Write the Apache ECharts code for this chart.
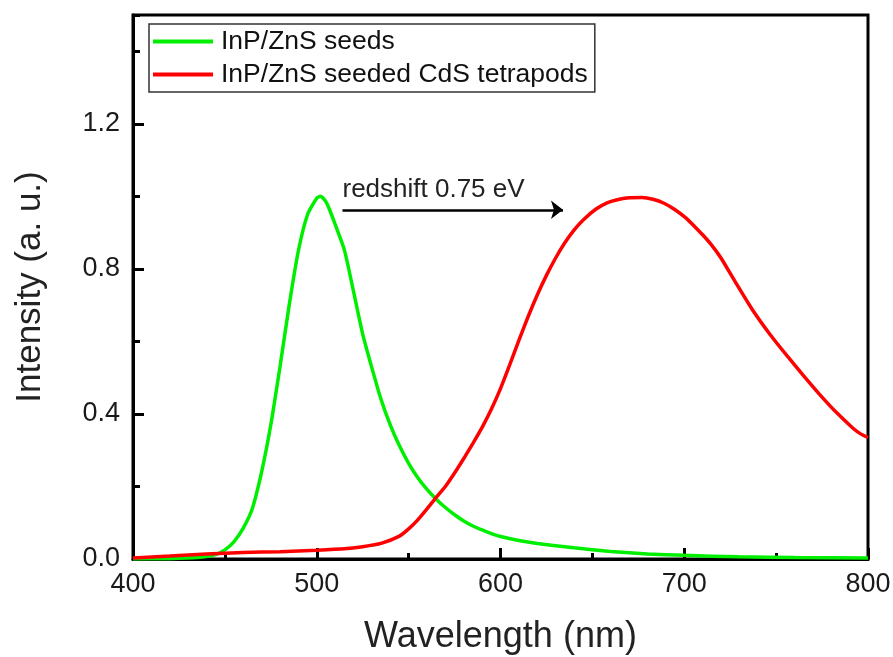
<!DOCTYPE html>
<html>
<head>
<meta charset="utf-8">
<script src="https://cdn.jsdelivr.net/npm/echarts@6/dist/echarts.min.js"></script>
<style>html,body{margin:0;padding:0;background:#fff}#c{width:893px;height:657px}</style>
</head>
<body>
<div id="c"></div>
<script>
// ---- data ----
const greenName = 'InP/ZnS seeds';
const redName = 'InP/ZnS seeded CdS tetrapods';
const greenWl = [400,420,435,445,450,455,460,465,470,475,480,485,490,495,500,502,505,507,510,515,520,525,530,535,540,545,550,555,560,565,570,575,580,585,590,595,600,610,620,640,660,680,700,730,760,800];
const greenI  = [0.0,0.001,0.004,0.012,0.025,0.048,0.085,0.14,0.24,0.37,0.53,0.70,0.85,0.95,0.995,1.0,0.985,0.963,0.923,0.853,0.738,0.62,0.527,0.44,0.37,0.312,0.264,0.224,0.192,0.165,0.142,0.122,0.105,0.091,0.08,0.07,0.062,0.051,0.043,0.031,0.021,0.014,0.01,0.006,0.004,0.003];
const redWl = [400,420,440,460,480,500,515,525,535,545,550,555,560,565,570,575,580,585,590,595,600,605,610,615,620,625,630,635,640,645,652,658,663,670,677,683,689,695,701,706,710,715,720,728,737,747,756,765,774,783,792,796,800];
const redI  = [0.003,0.008,0.014,0.018,0.02,0.024,0.028,0.034,0.043,0.063,0.083,0.108,0.138,0.17,0.2,0.237,0.277,0.319,0.363,0.413,0.47,0.535,0.603,0.668,0.728,0.782,0.83,0.872,0.907,0.935,0.965,0.982,0.99,0.996,0.997,0.992,0.981,0.963,0.94,0.915,0.894,0.865,0.83,0.762,0.688,0.617,0.56,0.505,0.452,0.403,0.36,0.345,0.335];
const xTicks = [400,500,600,700,800];
const yTicks = [0.0,0.4,0.8,1.2];
const arrowStartWl = 514, arrowEndWl = 634, arrowI = 0.963;
const annotation = 'redshift 0.75 eV';

const FONT = "Arial, 'Liberation Sans', sans-serif";
const pairs = (xs, ys) => xs.map((x, i) => [x, ys[i]]);

const chart = echarts.init(document.getElementById('c'), null, {renderer: 'canvas'});
chart.setOption({
  animation: false,
  backgroundColor: '#fff',
  grid: {left: 133, top: 15, right: 25, bottom: 98, outerBoundsMode: 'none', containLabel: false,
    show: true, borderColor: '#000', borderWidth: 3, backgroundColor: 'transparent'},
  legend: {
    orient: 'vertical', left: 149, top: 24,
    borderColor: '#333', borderWidth: 1.5, padding: [4, 7, 4, 4],
    icon: 'rect', itemWidth: 60, itemHeight: 4, itemGap: 6,
    textStyle: {fontFamily: FONT, fontSize: 26.5, color: '#111', padding: [0, 0, 0, 3], lineHeight: 26},
    data: [greenName, redName]
  },
  xAxis: {
    type: 'value', min: xTicks[0], max: xTicks[xTicks.length - 1], interval: 100,
    name: 'Wavelength (nm)', nameLocation: 'middle', nameGap: 60,
    nameTextStyle: {fontFamily: FONT, fontSize: 36, color: '#222'},
    axisLine: {show: true, lineStyle: {color: '#000', width: 3}},
    axisTick: {show: true, inside: true, length: 11, lineStyle: {color: '#000', width: 3}},
    minorTick: {show: true, splitNumber: 2, length: 6, lineStyle: {color: '#000', width: 3}},
    axisLabel: {fontFamily: FONT, fontSize: 27, color: '#1a1a1a', margin: 12},
    splitLine: {show: false}
  },
  yAxis: [{
    type: 'value', min: 0, max: 1.5, interval: 0.4,
    name: 'Intensity (a. u.)', nameLocation: 'middle', nameGap: 85,
    nameTextStyle: {fontFamily: FONT, fontSize: 35, color: '#222'},
    axisLine: {show: true, lineStyle: {color: '#000', width: 3}},
    axisTick: {show: true, inside: true, length: 11, lineStyle: {color: '#000', width: 3}},
    axisLabel: {fontFamily: FONT, fontSize: 27, color: '#1a1a1a', margin: 13, showMaxLabel: false,
      formatter: v => (yTicks.some(t => Math.abs(t - v) < 1e-9) ? v.toFixed(1) : '')},
    splitLine: {show: false}
  }, {
    type: 'value', min: 0, max: 1.5, interval: 0.2, position: 'left',
    axisLine: {show: false},
    axisTick: {show: true, inside: true, length: 7, lineStyle: {color: '#000', width: 3}},
    axisLabel: {show: false},
    splitLine: {show: false}
  }],
  series: [{
    name: greenName, type: 'line', data: pairs(greenWl, greenI), yAxisIndex: 0,
    symbol: 'none', smooth: 0.2, lineStyle: {color: '#00ee00', width: 3.5}, itemStyle: {color: '#00ee00'}, z: 3
  }, {
    name: redName, type: 'line', data: pairs(redWl, redI), yAxisIndex: 0,
    symbol: 'none', smooth: 0.2, lineStyle: {color: '#ff0000', width: 3.5}, itemStyle: {color: '#ff0000'}, z: 4,
    markLine: {
      silent: true, symbol: ['none', 'arrow'], symbolSize: [14, 12],
      lineStyle: {color: '#000', width: 2.5, type: 'solid'},
      label: {show: true, position: 'insideStartTop', formatter: annotation, fontFamily: FONT, fontSize: 26, color: '#222', distance: [0, 7]},
      data: [[{coord: [arrowStartWl, arrowI]}, {coord: [arrowEndWl, arrowI]}]]
    }
  }]
});
</script>
</body>
</html>
